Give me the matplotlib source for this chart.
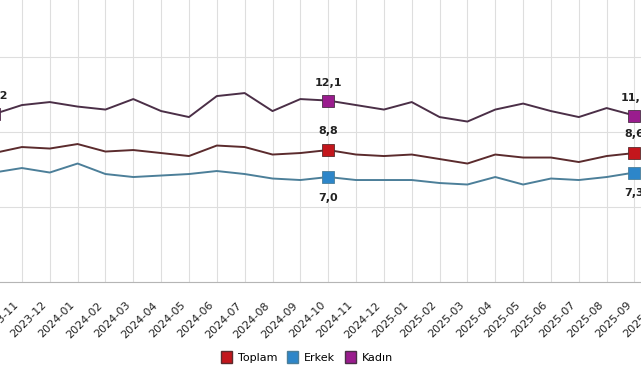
import matplotlib
matplotlib.use('Agg')
import matplotlib.pyplot as plt
from matplotlib.patches import Patch
from matplotlib.transforms import ScaledTranslation
import numpy as np

# aylar (son etiket 2025-10 sadece eksende)
months = ['2023-10', '2023-11', '2023-12', '2024-01', '2024-02', '2024-03',
          '2024-04', '2024-05', '2024-06', '2024-07', '2024-08', '2024-09',
          '2024-10', '2024-11', '2024-12', '2025-01', '2025-02', '2025-03',
          '2025-04', '2025-05', '2025-06', '2025-07', '2025-08', '2025-09',
          '2025-10']

kadin = [11.2, 11.8, 12.0, 11.7, 11.5, 12.2, 11.4, 11.0, 12.4, 12.6, 11.4, 12.2,
         12.1, 11.8, 11.5, 12.0, 11.0, 10.7, 11.5, 11.9, 11.4, 11.0, 11.6, 11.1]
toplam = [8.6, 9.0, 8.9, 9.2, 8.7, 8.8, 8.6, 8.4, 9.1, 9.0, 8.5, 8.6,
          8.8, 8.5, 8.4, 8.5, 8.2, 7.9, 8.5, 8.3, 8.3, 8.0, 8.4, 8.6]
erkek = [7.3, 7.6, 7.3, 7.9, 7.2, 7.0, 7.1, 7.2, 7.4, 7.2, 6.9, 6.8,
         7.0, 6.8, 6.8, 6.8, 6.6, 6.5, 7.0, 6.5, 6.9, 6.8, 7.0, 7.3]

# etiketli noktalar
marked_kadin = [0, 12, 23]
marked_other = [12, 23]

series = [
    ('Toplam', toplam, '#5b2b2d', '#c3161c', 14, marked_other),
    ('Erkek', erkek, '#4c7f99', '#2d86c9', -15, marked_other),
    ('Kadın', kadin, '#4b2f47', '#9a1c8e', 13, marked_kadin),
]

fig = plt.figure(figsize=(6.41, 3.80), dpi=100)
ax = fig.add_axes([-0.031, 0.258, 1.086, 0.789])

x = np.arange(len(toplam))
for name, vals, lc, mc, off, marked in series:
    vals = np.array(vals)
    ax.plot(x, vals, color=lc, lw=1.4, zorder=3)
    ax.plot(x[marked], vals[marked], ls='none', marker='s', ms=9,
            mfc=mc, mec=lc, mew=0.6, zorder=4)
    for i in marked:
        ax.annotate(f'{vals[i]:.1f}'.replace('.', ','), (x[i], vals[i]),
                    xytext=(0, off), textcoords='offset points',
                    ha='center', va='center', fontsize=8, fontweight='bold',
                    color='#222222', zorder=5)

ax.set_xlim(-0.5, 24.5)
ax.set_ylim(0, 20)
ax.set_xticks(range(len(months)))
ax.set_xticklabels(months, rotation=45, ha='right', rotation_mode='anchor',
                   fontsize=8, color='#222222')
ax.set_yticks([0, 5, 10, 15, 20])
ax.tick_params(axis='x', length=0, pad=13)
ax.tick_params(axis='y', length=0, labelleft=False)
shift = ScaledTranslation(-6 / 72, 0, fig.dpi_scale_trans)
for lab in ax.get_xticklabels():
    lab.set_transform(lab.get_transform() + shift)

ax.grid(True, color='#dedede', lw=0.8)
ax.set_axisbelow(True)
for s in ['top', 'right', 'left']:
    ax.spines[s].set_visible(False)
ax.spines['bottom'].set_color('#b5b5b5')

handles = [Patch(facecolor=mc, edgecolor=lc, label=name)
           for name, vals, lc, mc, off, marked in series]
fig.legend(handles=handles, loc='center', bbox_to_anchor=(307 / 641, 1 - 357 / 380),
           ncol=3, frameon=False, fontsize=8, handlelength=1.0, handleheight=1.2,
           handletextpad=0.5, columnspacing=0.9)

fig.savefig('out.png', dpi=100, facecolor='white')
